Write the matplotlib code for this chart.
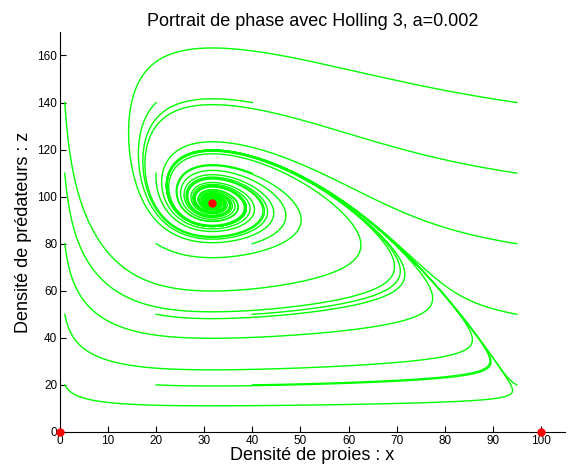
import numpy as np
import matplotlib
matplotlib.use("Agg")
import matplotlib.pyplot as plt

plt.rcParams['font.family'] = ['Liberation Sans', 'DejaVu Sans']

# Model parameters (Holling type III predator-prey)
a = 0.002          # saturation parameter of the functional response
r = 1.0            # prey growth rate
K = 100.0          # prey carrying capacity
d = 0.2            # predator mortality
x_eq = 31.7        # interior equilibrium
z_eq = 97.5
T_end = 250.0

# Initial conditions
x0_values = [1, 20, 40, 95]
z0_values = [20, 50, 80, 110, 140]

# Equilibria drawn as red dots
eq_x = [0, 100, x_eq]
eq_z = [0, 0, z_eq]

# derived coefficients so that the interior equilibrium sits at (x_eq, z_eq)
h_eq = x_eq**2 / (1 + a * x_eq**2)
c = d / h_eq
b = r * (1 - x_eq / K) * (1 + a * x_eq**2) / (x_eq * z_eq)


def rhs(s):
    x, z = s
    hol = x**2 / (1 + a * x**2)
    return np.array([r * x * (1 - x / K) - b * hol * z,
                     z * (-d + c * hol)])


def integrate(s0, T, dt=0.05):
    n = int(T / dt)
    out = np.empty((n + 1, 2))
    s = np.array(s0, dtype=float)
    out[0] = s
    for i in range(n):
        k1 = rhs(s)
        k2 = rhs(s + dt / 2 * k1)
        k3 = rhs(s + dt / 2 * k2)
        k4 = rhs(s + dt * k3)
        s = s + dt / 6 * (k1 + 2 * k2 + 2 * k3 + k4)
        out[i + 1] = s
    return out


fig = plt.figure(figsize=(5.68, 4.70), dpi=100)
ax = fig.add_axes([0.1056, 0.081, 0.889, 0.851])

for x0 in x0_values:
    for z0 in z0_values:
        tr = integrate((x0, z0), T_end)
        ax.plot(tr[:, 0], tr[:, 1], color='#00ff00', lw=1.0)

ax.plot(eq_x, eq_z, 'o', color='red', ms=5, clip_on=False, zorder=5)

ax.set_xlim(0, 105)
ax.set_ylim(0, 170)
ax.set_xticks(np.arange(0, 101, 10))
ax.set_yticks(np.arange(0, 161, 20))
ax.spines['top'].set_visible(False)
ax.spines['right'].set_visible(False)
ax.tick_params(direction='in', length=4, labelsize=8.5, width=0.8, pad=2)
ax.set_title('Portrait de phase avec Holling 3, a=0.002', fontsize=13, pad=4)
ax.set_xlabel('Densité de proies : x', fontsize=13, labelpad=0)
ax.set_ylabel('Densité de prédateurs : z', fontsize=13, labelpad=4)

fig.savefig('out.png', dpi=100)
